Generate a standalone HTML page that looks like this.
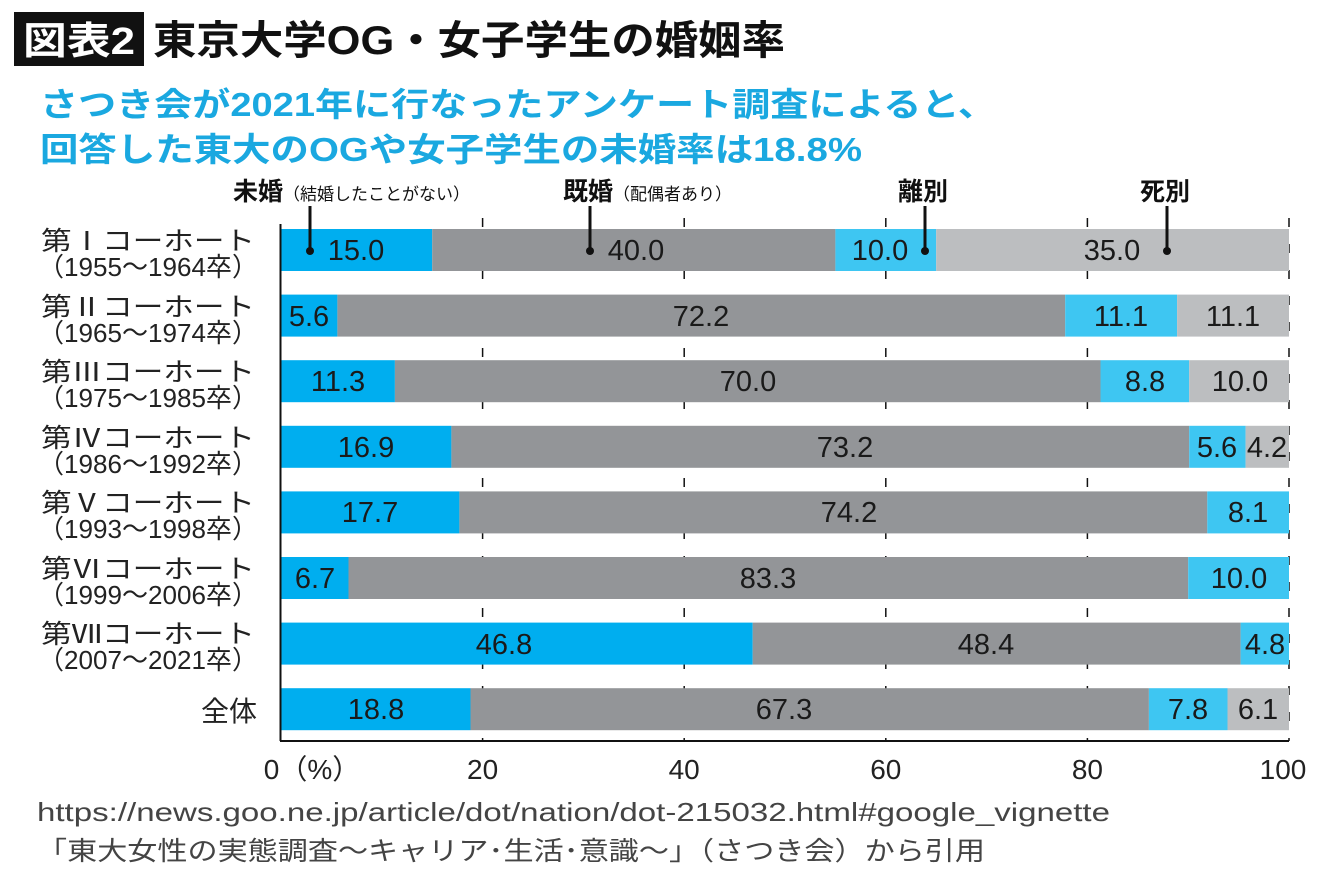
<!DOCTYPE html>
<html><head><meta charset="utf-8"><style>
html,body{margin:0;padding:0;background:#fff;}
svg{display:block;}
text{font-family:"Liberation Sans","Noto Sans CJK JP",sans-serif;}
</style></head><body>
<svg width="1340" height="883" viewBox="0 0 1340 883" xmlns="http://www.w3.org/2000/svg">
<rect x="14" y="12" width="130" height="54" fill="#111"/>
<text x="79" y="54" font-size="38" font-weight="bold" fill="#fff" text-anchor="middle" textLength="112" lengthAdjust="spacingAndGlyphs">図表2</text>
<text x="153" y="54" font-size="40" font-weight="bold" fill="#111" textLength="632" lengthAdjust="spacingAndGlyphs">東京大学OG・女子学生の婚姻率</text>
<text x="40" y="116" font-size="33" font-weight="bold" fill="#1aa8e0" textLength="956" lengthAdjust="spacingAndGlyphs">さつき会が2021年に行なったアンケート調査によると、</text>
<text x="40" y="161" font-size="33" font-weight="bold" fill="#1aa8e0" textLength="822" lengthAdjust="spacingAndGlyphs">回答した東大のOGや女子学生の未婚率は18.8%</text>

<g fill="#111">
<text x="233" y="200" font-size="25" font-weight="bold">未婚<tspan font-size="17" font-weight="normal">（結婚したことがない）</tspan></text>
<text x="563" y="200" font-size="25" font-weight="bold">既婚<tspan font-size="17" font-weight="normal">（配偶者あり）</tspan></text>
<text x="898" y="200" font-size="25" font-weight="bold">離別</text>
<text x="1140" y="200" font-size="25" font-weight="bold">死別</text>
</g>

<!-- grid -->
<g stroke="#111" stroke-width="1.5" stroke-dasharray="9,17">
<line x1="482.6" y1="218" x2="482.6" y2="741"/>
<line x1="684.2" y1="218" x2="684.2" y2="741"/>
<line x1="885.8" y1="218" x2="885.8" y2="741"/>
<line x1="1087.4" y1="218" x2="1087.4" y2="741"/>
<line x1="1289" y1="218" x2="1289" y2="741"/>
</g>

<!-- bars -->
<g>
<rect x="281" y="229" width="151.2" height="42" fill="#00aeef"/>
<rect x="432.2" y="229" width="403.2" height="42" fill="#939598"/>
<rect x="835.4" y="229" width="100.8" height="42" fill="#3ec6f2"/>
<rect x="936.2" y="229" width="352.8" height="42" fill="#bcbec0"/>

<rect x="281" y="294.6" width="56.4" height="42" fill="#00aeef"/>
<rect x="337.4" y="294.6" width="727.8" height="42" fill="#939598"/>
<rect x="1065.2" y="294.6" width="111.9" height="42" fill="#3ec6f2"/>
<rect x="1177.1" y="294.6" width="111.9" height="42" fill="#bcbec0"/>

<rect x="281" y="360.2" width="113.9" height="42" fill="#00aeef"/>
<rect x="394.9" y="360.2" width="705.6" height="42" fill="#939598"/>
<rect x="1100.5" y="360.2" width="88.7" height="42" fill="#3ec6f2"/>
<rect x="1189.2" y="360.2" width="99.8" height="42" fill="#bcbec0"/>

<rect x="281" y="425.8" width="170.4" height="42" fill="#00aeef"/>
<rect x="451.4" y="425.8" width="737.8" height="42" fill="#939598"/>
<rect x="1189.2" y="425.8" width="56.4" height="42" fill="#3ec6f2"/>
<rect x="1245.6" y="425.8" width="43.4" height="42" fill="#bcbec0"/>

<rect x="281" y="491.4" width="178.4" height="42" fill="#00aeef"/>
<rect x="459.4" y="491.4" width="747.9" height="42" fill="#939598"/>
<rect x="1207.3" y="491.4" width="81.7" height="42" fill="#3ec6f2"/>

<rect x="281" y="557" width="67.5" height="42" fill="#00aeef"/>
<rect x="348.5" y="557" width="839.7" height="42" fill="#939598"/>
<rect x="1188.2" y="557" width="100.8" height="42" fill="#3ec6f2"/>

<rect x="281" y="622.6" width="471.7" height="42" fill="#00aeef"/>
<rect x="752.7" y="622.6" width="487.9" height="42" fill="#939598"/>
<rect x="1240.6" y="622.6" width="48.4" height="42" fill="#3ec6f2"/>

<rect x="281" y="688.2" width="189.5" height="42" fill="#00aeef"/>
<rect x="470.5" y="688.2" width="678.4" height="42" fill="#939598"/>
<rect x="1148.9" y="688.2" width="78.6" height="42" fill="#3ec6f2"/>
<rect x="1227.5" y="688.2" width="61.5" height="42" fill="#bcbec0"/>
</g>

<!-- axes -->
<line x1="280.5" y1="224" x2="280.5" y2="741" stroke="#111" stroke-width="2"/>
<line x1="280" y1="741" x2="1289" y2="741" stroke="#111" stroke-width="2"/>

<!-- pointers -->
<g stroke="#111" stroke-width="3">
<line x1="310" y1="206" x2="310" y2="250"/>
<line x1="590" y1="206" x2="590" y2="250"/>
<line x1="925" y1="206" x2="925" y2="250"/>
<line x1="1167" y1="206" x2="1167" y2="250"/>
</g>
<g fill="#111">
<circle cx="310" cy="251" r="4"/><circle cx="590" cy="251" r="4"/><circle cx="925" cy="251" r="4"/><circle cx="1167" cy="251" r="4"/>
</g>

<!-- values -->
<g font-size="29" fill="#1a1a1a" text-anchor="middle">
<text x="356" y="260">15.0</text><text x="636" y="260">40.0</text><text x="880" y="260">10.0</text><text x="1112" y="260">35.0</text>
<text x="309" y="326">5.6</text><text x="701" y="326">72.2</text><text x="1121" y="326">11.1</text><text x="1233" y="326">11.1</text>
<text x="338" y="391">11.3</text><text x="748" y="391">70.0</text><text x="1145" y="391">8.8</text><text x="1240" y="391">10.0</text>
<text x="366" y="457">16.9</text><text x="845" y="457">73.2</text><text x="1217" y="457">5.6</text><text x="1267" y="457">4.2</text>
<text x="370" y="522">17.7</text><text x="849" y="522">74.2</text><text x="1248" y="522">8.1</text>
<text x="315" y="588">6.7</text><text x="768" y="588">83.3</text><text x="1239" y="588">10.0</text>
<text x="504" y="654">46.8</text><text x="986" y="654">48.4</text><text x="1265" y="654">4.8</text>
<text x="376" y="719">18.8</text><text x="784" y="719">67.3</text><text x="1188" y="719">7.8</text><text x="1258" y="719">6.1</text>
</g>

<!-- y labels -->
<g font-size="26" fill="#222" text-anchor="end">
<text x="255" y="250" textLength="214" lengthAdjust="spacingAndGlyphs">第Ⅰコーホート</text>
<text x="258" y="276" textLength="220" lengthAdjust="spacingAndGlyphs">（1955～1964卒）</text>
<text x="255" y="316" textLength="214" lengthAdjust="spacingAndGlyphs">第Ⅱコーホート</text>
<text x="258" y="342" textLength="220" lengthAdjust="spacingAndGlyphs">（1965～1974卒）</text>
<text x="255" y="381" textLength="214" lengthAdjust="spacingAndGlyphs">第Ⅲコーホート</text>
<text x="258" y="407" textLength="220" lengthAdjust="spacingAndGlyphs">（1975～1985卒）</text>
<text x="255" y="447" textLength="214" lengthAdjust="spacingAndGlyphs">第Ⅳコーホート</text>
<text x="258" y="473" textLength="220" lengthAdjust="spacingAndGlyphs">（1986～1992卒）</text>
<text x="255" y="512" textLength="214" lengthAdjust="spacingAndGlyphs">第Ⅴコーホート</text>
<text x="258" y="538" textLength="220" lengthAdjust="spacingAndGlyphs">（1993～1998卒）</text>
<text x="255" y="578" textLength="214" lengthAdjust="spacingAndGlyphs">第Ⅵコーホート</text>
<text x="258" y="604" textLength="220" lengthAdjust="spacingAndGlyphs">（1999～2006卒）</text>
<text x="255" y="643" textLength="214" lengthAdjust="spacingAndGlyphs">第Ⅶコーホート</text>
<text x="258" y="669" textLength="220" lengthAdjust="spacingAndGlyphs">（2007～2021卒）</text>
<text x="257" y="721" font-size="28">全体</text>
</g>

<!-- x ticks -->
<g font-size="28" fill="#222" text-anchor="middle">
<text x="312" y="779">0（%）</text>
<text x="482.6" y="779">20</text>
<text x="684.2" y="779">40</text>
<text x="885.8" y="779">60</text>
<text x="1087.4" y="779">80</text>
<text x="1283" y="779">100</text>
</g>

<g font-size="26" fill="#444">
<text x="37" y="821" textLength="1073" lengthAdjust="spacingAndGlyphs">https://news.goo.ne.jp/article/dot/nation/dot-215032.html#google_vignette</text>
<text x="37" y="860" textLength="948" lengthAdjust="spacingAndGlyphs">「東大女性の実態調査～キャリア･生活･意識～」（さつき会）から引用</text>
</g>
</svg>
</body></html>
